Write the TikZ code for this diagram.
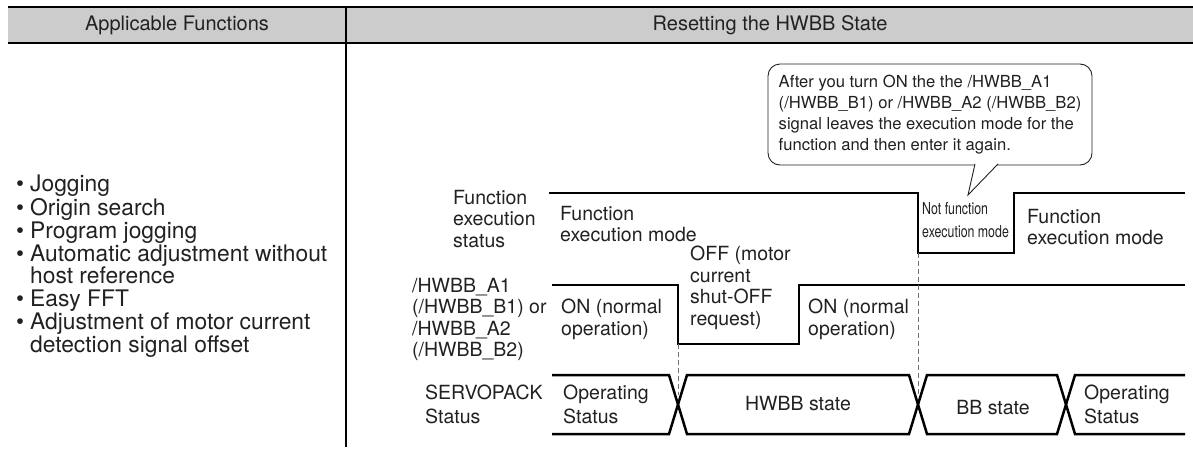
\documentclass[tikz,border=0pt]{standalone}
\usepackage{fontspec}
\setmainfont{TeX Gyre Heros}
\newfontfamily\condfont[FakeStretch=0.75]{TeX Gyre Heros}
\usetikzlibrary{calc}
\definecolor{hdrgray}{gray}{0.8}
\definecolor{ink}{gray}{0.13}
\definecolor{guidegray}{gray}{0.45}
\newcommand\mainfs{\fontsize{19.5}{21.5}\selectfont}
\newcommand\headfs{\fontsize{20}{22}\selectfont}
\newcommand\listfs{\fontsize{22.8}{21}\selectfont}
\newcommand\notefs{\fontsize{16.6}{21.2}\selectfont}
\newcommand\smallfs{\condfont\fontsize{16.5}{23}\selectfont}
\begin{document}
\begin{tikzpicture}[x=1pt,y=-1pt,
  every node/.style={inner sep=0pt,text=ink},
  lbl/.style={anchor=north west,align=left,font=\mainfs},
  ctr/.style={anchor=center,align=center,font=\mainfs},
  sig/.style={draw=black,line width=2.5pt,line join=miter,line cap=butt},
  tbl/.style={draw=black,line width=1.2pt},
  guide/.style={draw=guidegray,line width=0.9pt,dash pattern=on 5pt off 3pt},
  notebox/.style={draw=ink,line width=0.9pt,rounded corners=12pt,fill=white,
    minimum width=324pt,minimum height=101pt,inner xsep=4pt,
    align=left,font=\notefs},
  pointer/.style={draw=ink,line width=0.9pt,fill=white}]
\useasboundingbox (0,0) rectangle (1193,450);
% table
\fill[hdrgray] (8,7) rectangle (1193,43);
\draw[tbl] (8,7) -- (1193,7);
\draw[tbl] (8,43) -- (1193,43);
\draw[tbl] (346,7) -- (346,447);
\node[ctr,font=\headfs] (hA) at (177,25) {Applicable Functions};
\node[ctr,font=\headfs] (hB) at (770,25) {Resetting the HWBB State};
% list
\node[anchor=north west,font=\listfs] (funcs) at (16,175) {%
\begin{tabular}{@{}l@{\hspace{6pt}}l@{}}
\textbullet & Jogging\\
\textbullet & Origin search\\
\textbullet & Program jogging\\
\textbullet & Automatic adjustment without\\
 & host reference\\
\textbullet & Easy FFT\\
\textbullet & Adjustment of motor current\\
 & detection signal offset
\end{tabular}};
% function execution status signal
\coordinate (f0) at (549,193);
\coordinate (f1) at (918,193);
\coordinate (f2) at (918,253);
\coordinate (f3) at (1014,253);
\coordinate (f4) at (1014,193);
\coordinate (f5) at (1185,193);
\draw[sig] (f0) -- (f1) -- (f2) -- (f3) -- (f4) -- (f5);
% HWBB signal
\coordinate (h0) at (552,285);
\coordinate (h1) at (678,285);
\coordinate (h2) at (678,344);
\coordinate (h3) at (799,344);
\coordinate (h4) at (799,285);
\coordinate (h5) at (1185,285);
\draw[sig] (h0) -- (h1) -- (h2) -- (h3) -- (h4) -- (h5);
% SERVOPACK status bus
\coordinate (x1) at (678,395);
\coordinate (x2) at (918,395);
\draw[sig] (552,375) -- (669,375) -- (687,434) -- (909,434) -- (927,375) -- (1057,375) -- (1075,434) -- (1185,434);
\draw[sig] (552,434) -- (669,434) -- (687,375) -- (909,375) -- (927,434) -- (1057,434) -- (1075,375) -- (1185,375);
% guides
\draw[guide] (h2) -- (x1);
\draw[guide] (f2) -- (x2);
% row labels
\node[lbl] (lFES) at (453,190) {Function\\execution\\status};
\node[lbl] (lHW) at (412,278) {/HWBB\_A1\\(/HWBB\_B1) or\\/HWBB\_A2\\(/HWBB\_B2)};
\node[lbl] (lSP) at (425,385) {SERVOPACK\\[2.5pt]Status};
% state labels
\node[lbl] (mode1) at (560,206) {Function\\execution mode};
\node[lbl] (off) at (690,246) {OFF (motor\\current\\shut-OFF\\request)};
\node[lbl] (on1) at (561,299) {ON (normal\\operation)};
\node[lbl] (on2) at (808,299) {ON (normal\\operation)};
\node[lbl,font=\smallfs] (nf) at (922,202) {Not function\\execution mode};
\node[lbl] (mode2) at (1027,209) {Function\\execution mode};
\node[lbl] (op1) at (563,385) {Operating\\[2.5pt]Status};
\node[ctr] (hwbb) at (798,404) {HWBB state};
\node[ctr] (bb) at (993,408) {BB state};
\node[lbl] (op2) at (1084,385) {Operating\\[2.5pt]Status};
% callout
\node[notebox] (note) at (930,114.5) {After you turn ON the the /HWBB\_A1\\(/HWBB\_B1) or /HWBB\_A2 (/HWBB\_B2)\\signal leaves the execution mode for the\\function and then enter it again.};
\coordinate (tip) at (968,195);
\path[pointer] ($(note.south)+(45,-1.5)$) -- (tip) -- ($(note.south)+(68,-1.5)$);
\end{tikzpicture}
\end{document}
